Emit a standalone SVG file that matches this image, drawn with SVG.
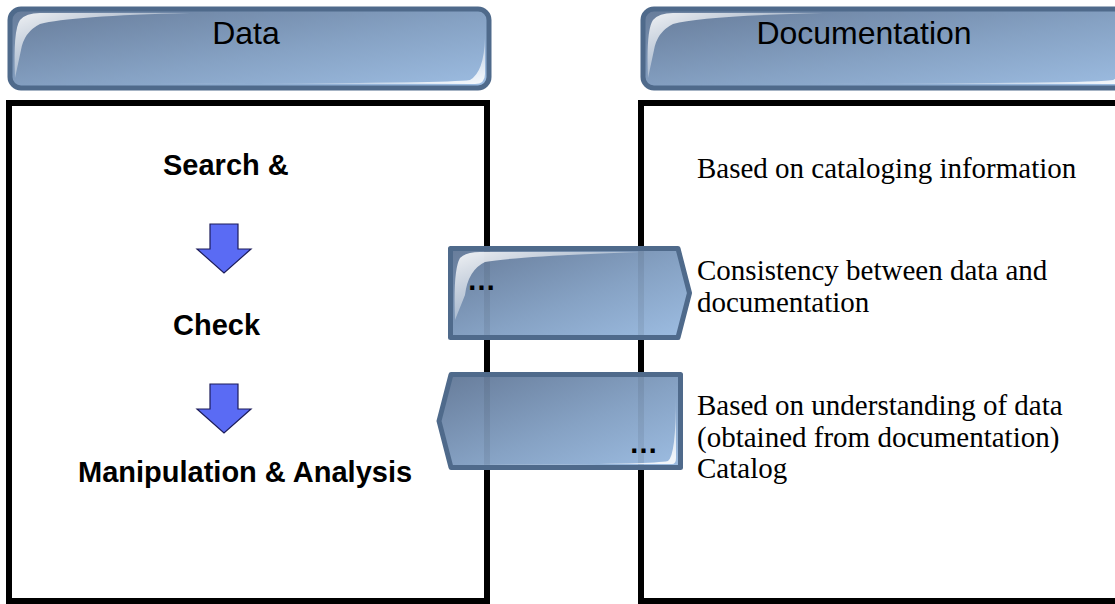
<svg xmlns="http://www.w3.org/2000/svg" width="1115" height="604" viewBox="0 0 1115 604">
  <defs>
    <linearGradient id="glassFill" x1="0" y1="0" x2="1" y2="1">
      <stop offset="0" stop-color="#677c9a"/>
      <stop offset="0.55" stop-color="#86a2c4"/>
      <stop offset="1" stop-color="#9dbde2"/>
    </linearGradient>
    <linearGradient id="sheenTL" x1="0" y1="0" x2="1" y2="1">
      <stop offset="0" stop-color="#ffffff" stop-opacity="0.9"/>
      <stop offset="0.5" stop-color="#ffffff" stop-opacity="0.35"/>
      <stop offset="1" stop-color="#ffffff" stop-opacity="0"/>
    </linearGradient>
    <linearGradient id="sheenBR" x1="1" y1="1" x2="0" y2="0">
      <stop offset="0" stop-color="#ffffff" stop-opacity="0.9"/>
      <stop offset="0.5" stop-color="#ffffff" stop-opacity="0.35"/>
      <stop offset="1" stop-color="#ffffff" stop-opacity="0"/>
    </linearGradient>
    <style>
      .glass { fill: url(#glassFill); stroke: #4f6a8b; stroke-width: 5; stroke-linejoin: round; }
      .frame { fill: #ffffff; stroke: #000000; stroke-width: 6; }
      .ghost { stroke: #000000; stroke-opacity: 0.07; stroke-width: 6; }
      .head { font-family: "Liberation Sans", Arial, sans-serif; font-size: 32px; fill: #000000; text-anchor: middle; }
      .step { font-family: "Liberation Sans", Arial, sans-serif; font-size: 29px; font-weight: bold; fill: #000000; }
      .note { font-family: "Liberation Serif", "Times New Roman", serif; font-size: 29px; fill: #000000; }
      .dots { font-family: "Liberation Sans", Arial, sans-serif; font-size: 29px; font-weight: bold; fill: #000000; }
      .down { fill: #5a6bf4; stroke: #1c1c5a; stroke-width: 1.2; stroke-linejoin: miter; }
    </style>
  </defs>

  <rect width="1115" height="604" fill="#ffffff"/>

  <!-- Data column -->
  <g id="data-header">
    <rect class="glass" x="10" y="9" width="479" height="79" rx="11"/>
    <path d="M15,78 Q13,30 20,20 Q26,13 40,13 L190,13 Q70,16 40,24 Q24,32 21,50 Z" fill="url(#sheenTL)"/>
    <path d="M485,38 Q484,72 470,80 Q440,84 150,83 L475,84 Q485,84 485,74 Z" fill="url(#sheenBR)"/>
    <text class="head" x="246" y="44">Data</text>
  </g>
  <g id="data-box">
    <rect class="frame" x="9" y="103" width="478" height="498"/>
    <text class="step" x="163" y="175">Search &amp;</text>
    <text class="step" x="173" y="335">Check</text>
    <text class="step" x="78" y="482">Manipulation &amp; Analysis</text>
  </g>

  <!-- Documentation column -->
  <g id="doc-header">
    <rect class="glass" x="643" y="9" width="490" height="79" rx="11"/>
    <path d="M648,78 Q646,30 653,20 Q659,13 673,13 L823,13 Q703,16 673,24 Q657,32 654,50 Z" fill="url(#sheenTL)"/>
    <path d="M1128,38 Q1127,72 1113,80 Q1083,84 800,83 L1118,84 Q1128,84 1128,74 Z" fill="url(#sheenBR)"/>
    <text class="head" x="864" y="44">Documentation</text>
  </g>
  <g id="doc-box">
    <rect class="frame" x="641" y="103" width="500" height="498"/>
    <text class="note" x="697" y="178">Based on cataloging information</text>
    <text class="note" x="697" y="280">Consistency between data and</text>
    <text class="note" x="697" y="312">documentation</text>
    <text class="note" x="697" y="415">Based on understanding of data</text>
    <text class="note" x="697" y="447">(obtained from documentation)</text>
    <text class="note" x="697" y="478">Catalog</text>
  </g>

  <!-- Exchange arrows between the two columns -->
  <g id="to-documentation">
    <path class="glass" d="M450.5,248.5 L678,248.5 L689.5,293 L678,337.5 L450.5,337.5 Z" stroke-linejoin="miter"/>
    <line class="ghost" x1="487" y1="251" x2="487" y2="335"/>
    <line class="ghost" x1="641" y1="251" x2="641" y2="335"/>
    <path d="M455,320 Q453,270 460,258 Q466,252 480,252 L640,252 Q520,256 485,262 Q468,270 465,295 Z" fill="url(#sheenTL)"/>
    <text class="dots" x="467" y="290">…</text>
  </g>
  <g id="to-data">
    <path class="glass" d="M451,374.5 L680.5,374.5 L680.5,467.5 L451,467.5 L439,421 Z" stroke-linejoin="miter"/>
    <line class="ghost" x1="487" y1="377" x2="487" y2="465"/>
    <line class="ghost" x1="641" y1="377" x2="641" y2="465"/>
    <path d="M676,395 Q676,455 668,461 Q650,465 470,464 L672,464 Q676,464 676,458 Z" fill="url(#sheenBR)"/>
    <text class="dots" x="629" y="453">…</text>
  </g>

  <!-- Flow arrows inside the Data column -->
  <g id="connectors">
    <polygon class="down" points="210,224 238,224 238,249 251,249 224,273 197,249 210,249"/>
    <polygon class="down" points="210,384 238,384 238,409 251,409 224,433 197,409 210,409"/>
  </g>
</svg>
